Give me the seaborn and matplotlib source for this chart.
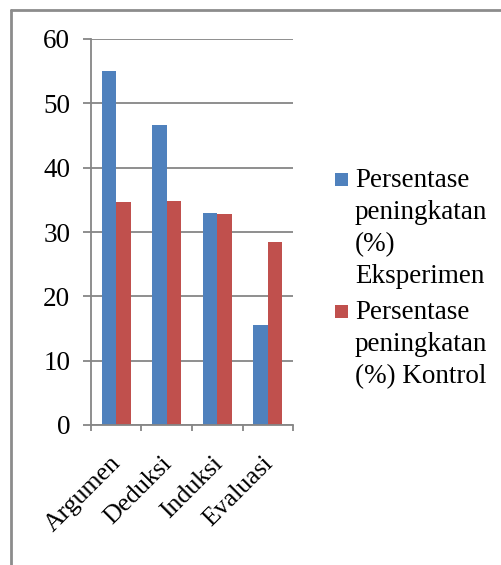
import matplotlib
matplotlib.use("Agg")
import matplotlib.pyplot as plt
import matplotlib.transforms as mtransforms
import seaborn as sns
import pandas as pd
from matplotlib.patches import Rectangle
from matplotlib.lines import Line2D

categories = ["Argumen", "Deduksi", "Induksi", "Evaluasi"]
eksperimen = [55.1, 46.6, 33.0, 15.6]
kontrol = [34.7, 34.8, 32.8, 28.4]
series_names = ["Persentase peningkatan (%) Eksperimen",
                "Persentase peningkatan (%) Kontrol"]
legend_labels = ["Persentase\npeningkatan\n(%)\nEksperimen",
                 "Persentase\npeningkatan\n(%) Kontrol"]
y_ticks = [0, 10, 20, 30, 40, 50, 60]
colors = ["#4F81BD", "#C0504D"]
grey = "#868686"
FS = 19.5

sns.set_theme(style="white")
plt.rcParams["font.family"] = ["Liberation Serif", "DejaVu Serif"]

W, H = 502, 565
fig = plt.figure(figsize=(W / 100, H / 100), dpi=100)


def fx(px):
    return px / W


def fy(py):
    return 1 - py / H


ax = fig.add_axes([fx(90.7), fy(425), fx(293.3) - fx(90.7), fy(39) - fy(425)])

df = pd.DataFrame({
    "Kategori": categories * 2,
    "Nilai": eksperimen + kontrol,
    "Seri": [series_names[0]] * len(categories) + [series_names[1]] * len(categories),
})
sns.barplot(data=df, x="Kategori", y="Nilai", hue="Seri", palette=colors,
            width=0.573, linewidth=0, saturation=1, legend=False, ax=ax)

ax.set_xlim(-0.5, len(categories) - 0.5)
ax.set_ylim(0, 60)
ax.set_yticks(y_ticks)
ax.set_xlabel("")
ax.set_ylabel("")
ax.yaxis.grid(True, color=grey, linewidth=1.3)
ax.set_axisbelow(True)
for s in ["top", "right"]:
    ax.spines[s].set_visible(False)
for s in ["left", "bottom"]:
    ax.spines[s].set_color(grey)
    ax.spines[s].set_linewidth(1.3)

ax.tick_params(axis="y", which="major", length=5.8, width=1.3, color=grey,
               direction="out", left=True, pad=9, labelsize=FS, labelcolor="black")
ax.set_xticks(range(len(categories)))
ax.set_xticks([i - 0.5 for i in range(len(categories) + 1)], minor=True)
ax.tick_params(axis="x", which="major", length=0, pad=16, labelsize=18.5,
               labelcolor="black")
ax.tick_params(axis="x", which="minor", length=4.5, width=1.3, color=grey,
               direction="out", bottom=True)
ax.set_xticklabels(categories, rotation=45, ha="right", va="top",
                   rotation_mode="anchor")
shift = mtransforms.ScaledTranslation(-6 / 100, -5 / 100, fig.dpi_scale_trans)
for lbl in ax.get_xticklabels():
    lbl.set_transform(lbl.get_transform() + shift)

# legend drawn as swatches beside wrapped labels
legend_rows = [(173, 168), (305, 300)]
for (sq_top, txt_top), col, lab in zip(legend_rows, colors, legend_labels):
    fig.add_artist(Rectangle((fx(335), fy(sq_top + 13)), 13 / W, 13 / H,
                             transform=fig.transFigure, facecolor=col,
                             edgecolor="none"))
    fig.text(fx(355), fy(txt_top), lab, ha="left", va="top", fontsize=FS,
             linespacing=1.37, color="black")

# chart frame (top and left edges)
fig.add_artist(Line2D([fx(11), fx(11)], [fy(10), 0], transform=fig.transFigure,
                      color="#8c8c8c", linewidth=2))
fig.add_artist(Line2D([fx(11), 1], [fy(10), fy(10)], transform=fig.transFigure,
                      color="#8c8c8c", linewidth=2))

fig.savefig("out.png", dpi=100)
